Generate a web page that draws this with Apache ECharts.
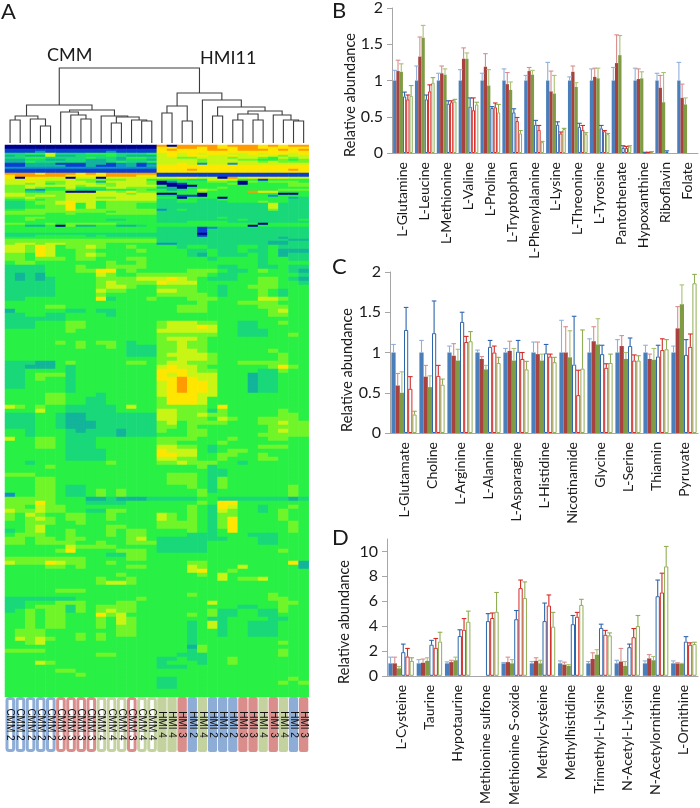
<!DOCTYPE html>
<html><head><meta charset="utf-8">
<script src="https://cdn.jsdelivr.net/npm/echarts@6/dist/echarts.min.js"></script>
<style>html,body{margin:0;padding:0;background:#fff}#c{width:700px;height:808px}</style></head>
<body><div id="c"></div>
<script>
// ---------- Panel A data ----------
const sampleNames = ['CMM 2','CMM 2','CMM 2','CMM 2','CMM 2','CMM 3','CMM 3','CMM 3','CMM 3','CMM 4','CMM 4','CMM 4','CMM 3','CMM 4','CMM 4',
  'HMI 4','HMI 4','HMI 3','HMI 2','HMI 4','HMI 2','HMI 2','HMI 2','HMI 3','HMI 3','HMI 4','HMI 3','HMI 4','HMI 2','HMI 3'];
// merges: [child A, child B, height]; ids below 30 are leaves, ids from 30 are earlier merges
const dendroMerges = [[0,1,23],[3,4,17],[2,31,24],[30,32,27],[7,8,24],[6,34,28],[5,35,31],[10,11,20],[13,14,22],[12,38,23],[37,39,26],[9,40,27],[36,41,33],[33,42,38],
  [15,16,30],[17,18,22],[44,45,37],[20,21,27],[22,23,23],[24,25,23],[48,49,29],[28,29,22],[27,51,23],[26,52,28],[50,53,32],[47,54,36],[19,55,43],[46,56,50],[43,57,75]];
// heat levels 0 (navy) .. 9 (orange), one string per row: CMM samples, then HMI11 samples
const heatRowsTop = [
"000000000000000 909999899989899","000000000000000 889989889988888","111111111111111 898889989998989","111211111121111 888888888888888",
"445574445554445 787878877878878","343373344454333 787887787787677","445544445443554 776677767765767","334433443343443 777767776655656",
"335444443345445 777767777767666","113331113312312 778727727777777","113333113112313 888888888888888","222222222222222 888888888888888",
"111111111111111 888988888888898","111111111111111 888888888888888","999899989899999 111111111111111","899999888899988 111111111111111",
"808877077077777 778877097888877","777777766666775 555447775515555","778766776377776 025556650656665","776756777667776 001555560555566",
"667777767767777 500055555555566","667655755577666 330455655555555","663255644455565 534576555555666","664466000776866 555565555988555",
"776666777777677 005505555555005","776776777777777 441105555552555","667666777667777 550555055555534","556566777777777 445544555555544",
"445667877566666 445544455565544","445667857566655 444444444447444","445566857566655 444444444447444","445566857566655 444444444447444",
"556666866666666 245444444446444","666666666656666 444444444444444","666655655566666 444444444444444","555555555555555 444444444444444",
"556655555555555 444444544444444","556555555544555 444444445444445","555555555555555 444555544444444","665565666665555 555555555505555",
"553350633553345 555555555055555","555555555555555 444412444444444","555555555555555 444414444444444","555555555555555 444414444444444",
"444444444444444 444404444444444","444555554544444 444414444444444","555555555555555 444444444444344","666666666666666 444444444444433",
"666666666666666 444444444443344","677677666655555 224444444443344"];
const heatRowsBottom = [
"776875667655655 554554445545444","776875566555565 555445445445333","665875567655555 555435444545344","665666566555665 555554555545544",
"566555555565565 555555555545555","444455565566665 555555445544544","444455566885655 555666544565543","434355555765566 666665445555554",
"434345555666677 787654445566543","444445555676666 877755555566554","444445555677655 666655455666555","444445555766555 776655455565455",
"444445555655555 666665455565455","445555555845556 555666555577655","555555555555555 555565556666555","555566555555555 556665555566655",
"355555445445555 556665555556755","445544555545555 555555555556655","444444555555555 555555555555555","444555665555555 677766554455655",
"444555665555555 677787554455555","555555655555555 777777554445555","555555555555555 666666554445565","555555555555555 677765555555555",
"555556565665455 667665555555555","555555565565444 667665555555555","555555555555444 667765555556555","555555555555444 677776555555655",
"555555555555555 667776555555655","444335655555665 677666556666655","443335455555555 787765555556865","445555455555555 888766555544655",
"445666455555555 878777555344555","445655455555555 889877555344555","445555455555555 789887555344555","445555455555555 789887555344555",
"555555455555555 789887555344555","555566555455555 788877555555555","555566554455555 688875555555555","555566554455555 688875555555555",
"765655444445755 666665855555555","555755444445555 776664655555655","444554334444444 776676655555665","444554334444444 776665765566665",
"444554333444444 675666655566766","444554333444444 665655555556666","554555434443444 655665555556766","554555444443444 555665555566666",
"755665444555555 666655565556655","555665444555555 665555655555555","555665444555555 776654555566655","555555444455555 877754566555555",
"555555444455555 887755665565555","555555444455555 776655655566555","554555555565555 667666554555555","555565555555555 555564555555555",
"555555555555555 555554455555555","666555555555555 566654455555555","555665555555555 566654655555555","555665555555555 566654655555555",
"555665445555555 555654655555565","555665445656555 555564555555565","255665445656555 555565555555565","666665553343334 444455444444434",
"666865554444555 555565885555555","665766555555555 555654875545565","766766554466555 555654765545655","657655665565555 765654665555655",
"656765665565555 765654685555655","556665565555555 666654685555565","556755555566555 666654685555565","456755655565665 555654585555565",
"566655655565665 555444555444555","665665665555675 444444455544555","665666655655666 444445555544555","555555766665555 444445555555555",
"555556855556665 444445555555655","555555555544665 555555555555555","666666665555665 555555555555555","766687665565555 555665555555583",
"555566565555665 555765557555553","555555555555555 555785565555555","555555555556555 555565755555555","555555555655655 555555756675555",
"555555555677655 555555555555555","555555555555555 555555555555555","555556665555555 555555555555555","555555555555555 555655555556555",
"444444455555565 555555555556655","445556665556655 555557555555665","445666465666655 555555554455655","456566465676655 555556445544655",
"556566555867555 555656445544555","556566555657655 555554455554455","556566555657655 555457455444555","556566555656655 555457455444555",
"566655555556655 555455455444555","566655565656655 555455455444555","576765565655555 555455555555555","556755555555555 555455555555655",
"555555555555555 555365555555555","666655555555555 555465555555655","555555555665555 554445555555655","555555555555555 445445565555555",
"555765555555555 455545565555555","555555555555555 444555555555555","555556655555555 555555555555555","555555565555555 555555555555555",
"555555555555555 445555555555565","555555555555555 445555555555656","555555555555555 445555555555555","555555555555555 555555555555555",
"555555555555555 555555555555555"];

// ---------- Panel B data ----------
const bCategories = ['L-Glutamine','L-Leucine','L-Methionine','L-Valine','L-Proline','L-Tryptophan','L-Phenylalanine','L-Lysine','L-Threonine','L-Tyrosine','Pantothenate','Hypoxanthine','Riboflavin','Folate'];
const bBlue = [1,1,1,1,1,1,1,1,1,1,1,1,1,1];
const bBlueTop = [1.14,1.2,1.1,1.15,1.1,1.16,1.07,1.25,1.05,1.16,1.18,1.17,1.1,1.25];
const bRed = [1.13,1.33,1.1,1.3,1.19,.95,1.13,.85,1.12,1.05,1.24,1.02,.9,.76];
const bRedTop = [1.28,1.6,1.2,1.45,1.37,1.11,1.18,1.13,1.2,1.17,1.63,1.16,1.07,.95];
const bGreen = [1.12,1.59,1.08,1.3,.93,.87,1.08,.82,.91,1.03,1.35,1.03,.7,.67];
const bGreenTop = [1.23,1.76,1.16,1.38,1.15,.98,1.14,1.07,.97,1.17,1.62,1.12,1.11,.76];
const bHollowBlue = [.78,.74,.68,.64,.62,.56,.39,.39,.36,.34,.07,.005,.02,null];
const bHollowBlueTop = [.84,.8,.72,.76,.64,.61,.45,.43,.41,.38,.1,.01,.03,null];
const bHollowRed = [.74,.85,.7,.59,.63,.44,.32,.27,.32,.3,.07,.01,null,null];
const bHollowRedTop = [.8,.94,.72,.76,.69,.49,.38,.29,.38,.31,.09,.01,null,null];
const bHollowGreen = [.79,.97,.71,.67,.56,.27,.15,.33,.26,.26,.09,.02,null,null];
const bHollowGreenTop = [.93,1.04,.74,.7,.67,.31,.16,.34,.28,.27,.1,.02,null,null];

// ---------- Panel C data ----------
const cCategories = ['L-Glutamate','Choline','L-Arginine','L-Alanine','L-Asparagine','L-Histidine','Nicotinamide','Glycine','L-Serine','Thiamin','Pyruvate'];
const cBlue = [1,1,1,1,1,1,1,1,1,1,1];
const cBlueTop = [1.1,1.15,1.08,1.03,1.05,1.13,1.4,1.17,1.16,1.09,1.08];
const cRed = [.59,.7,.96,.92,1.02,.98,1,1.14,1.08,.92,1.3];
const cRedTop = [.74,.84,1.11,.95,1.14,1.13,1.32,1.32,1.21,.98,1.57];
const cGreen = [.5,.57,.9,.79,.9,.9,.94,1.1,.92,.91,1.6];
const cGreenTop = [.76,.71,1.04,.84,1.05,.98,1.27,1.42,1,1.05,1.84];
const cHollowBlue = [1.28,1.24,1.38,1.07,1.01,.99,.85,.98,1.08,.95,.97];
const cHollowBlueTop = [1.56,1.64,1.5,1.15,1.15,1.1,1.45,1.09,1.18,1.09,1.16];
const cHollowRed = [.55,.71,1.13,1,.92,.95,.47,.81,.9,1.03,1.07];
const cHollowRedTop = [.7,.84,1.2,1.08,1,.98,.78,.86,.97,1.17,1.23];
const cHollowGreen = [.23,.6,1.14,.87,.79,.88,.8,.87,.9,1.04,1.86];
const cHollowGreenTop = [.27,.67,1.26,.94,.89,.94,1.28,.98,.96,1.16,1.97];

// ---------- Panel D data ----------
const dCategories = ['L-Cysteine','Taurine','Hypotaurine','Methionine sulfone','Methionine S-oxide','Methylcysteine','Methylhistidine','Trimethyl-L-lysine','N-Acetyl-L-lysine','N-Acetylornithine','L-Ornithine'];
const dBlue = [1,1,1,null,1,1,1,1,1,1,1];
const dBlueTop = [1.5,1.3,1.12,null,1.07,1.15,1.2,1.15,1.25,1.2,1.2];
const dRed = [1,1.05,1.1,null,1.1,1.2,.9,1.35,1.15,1.4,1];
const dRedTop = [1.5,1.35,1.25,null,1.5,1.45,1.1,1.85,2.2,1.7,1.05];
const dGreen = [.6,1.2,1.25,null,1,1,.8,1.7,.8,1.25,.95];
const dGreenTop = [.75,1.45,1.5,null,1.3,1.25,.9,2.1,1.15,1.55,1];
const dHollowBlue = [1.9,2.5,3.2,4.4,4.55,4.4,4.15,3.85,2.3,6.4,2.75];
const dHollowBlueTop = [2.55,2.85,3.7,5,5.25,5.85,4.85,4.15,2.55,7.7,3.15];
const dHollowRed = [1.55,2.25,3.7,4.65,7.05,5.65,4.75,3.3,3.1,6.7,2.5];
const dHollowRedTop = [2.2,3,4.6,5.05,7.7,6.5,5.1,3.65,3.8,8.25,2.65];
const dHollowGreen = [1.2,2.75,4.35,5.15,6.25,3.95,5.7,3.25,4,8.8,2.55];
const dHollowGreenTop = [1.45,3.5,5.2,6.7,7.55,5.1,6.15,3.45,4.85,10.4,2.7];

// ---------- build ----------
const FONT = 'Lato';
const grid = [], xAxis = [], yAxis = [], series = [];
const heatLeft = 5, heatWidth = 303.7;
const colIdx = sampleNames.map((_, i) => String(i));

function heatData(rows) {
  const out = [];
  rows.forEach((r, y) => { const s = r.replace(/ /g, ''); for (let x = 0; x < 30; x++) out.push([x, y, +s[x]]); });
  return out;
}
function addHeat(rows, top, height) {
  const g = grid.length;
  grid.push({ left: heatLeft, top, width: heatWidth, height });
  xAxis.push({ gridIndex: g, type: 'category', data: colIdx, show: false });
  yAxis.push({ gridIndex: g, type: 'category', data: rows.map((_, i) => String(i)), inverse: true, show: false });
  series.push({ type: 'heatmap', xAxisIndex: g, yAxisIndex: g, data: heatData(rows), animation: false, silent: true, progressive: 0 });
}
addHeat(heatRowsTop, 145, 100);
addHeat(heatRowsBottom, 245, 452);

// dendrogram
(function () {
  const g = grid.length;
  grid.push({ left: heatLeft, top: 68, width: heatWidth, height: 75 });
  xAxis.push({ gridIndex: g, type: 'value', min: 0, max: 30, show: false });
  yAxis.push({ gridIndex: g, type: 'value', min: 0, max: 75, show: false });
  const nodes = [];
  for (let i = 0; i < 30; i++) nodes.push({ x: i + .5, h: 0 });
  const links = dendroMerges.map(([a, b, h]) => {
    const n = nodes; const l = [n[a].x, n[a].h, n[b].x, n[b].h, h];
    n.push({ x: (n[a].x + n[b].x) / 2, h });
    return l;
  });
  series.push({
    type: 'custom', xAxisIndex: g, yAxisIndex: g, data: links, silent: true, animation: false, clip: false,
    renderItem(p, api) {
      const a = api.coord([api.value(0), api.value(1)]), b = api.coord([api.value(2), api.value(3)]);
      const t = api.coord([api.value(0), api.value(4)])[1];
      return { type: 'polyline', shape: { points: [a, [a[0], t], [b[0], t], b] }, style: { stroke: '#3c3c3c', lineWidth: 1.1, fill: null } };
    }
  });
})();

// sample strip
(function () {
  const g = grid.length;
  const stripColor = { '2': '#8dadd6', '3': '#d98e8c', '4': '#c4d2a0' };
  grid.push({ left: heatLeft, top: 697, width: heatWidth, height: 55 });
  xAxis.push({ gridIndex: g, type: 'category', data: sampleNames, show: false });
  yAxis.push({ gridIndex: g, type: 'value', min: 0, max: 1, show: false });
  series.push({
    type: 'custom', xAxisIndex: g, yAxisIndex: g, silent: true, animation: false,
    data: sampleNames.map((n, i) => [i, 1]),
    renderItem(p, api) {
      const i = api.value(0), name = sampleNames[i];
      const c = api.coord([i, 1]), b = api.coord([i, 0]), w = api.size([1, 0])[0];
      const col = stripColor[name.slice(-1)], hollow = name[0] === 'C';
      const kids = [];
      if (hollow) {
        kids.push({ type: 'rect', shape: { x: c[0] - w / 2 + 2, y: c[1] + 1.5, width: w - 3.5, height: b[1] - c[1] - 3, r: 2 }, style: { fill: '#fff', stroke: col, lineWidth: 3 } });
      } else {
        kids.push({ type: 'rect', shape: { x: c[0] - w / 2 + .4, y: c[1], width: w - .8, height: b[1] - c[1], r: 2 }, style: { fill: col } });
      }
      kids.push({ type: 'text', x: c[0], y: (c[1] + b[1]) / 2, rotation: -Math.PI / 2,
        style: { text: name, fill: '#111', font: '10px "Liberation Sans"', textAlign: 'center', textVerticalAlign: 'middle' } });
      return { type: 'group', children: kids };
    }
  });
})();

const FILL = ['#4a7ebb', '#a8423f', '#7f9c45'];
const ERRF = ['#8fb0dc', '#d98e8c', '#a9c272'];
const HOLL = ['#2e66ad', '#d42a26', '#8fae55'];
function addBars(cfg) {
  const g = grid.length;
  grid.push({ left: cfg.left, top: cfg.top, width: cfg.width, height: cfg.height });
  xAxis.push({
    gridIndex: g, type: 'category', data: cfg.categories,
    axisLine: { lineStyle: { color: '#a6a6a6', width: 1 } },
    axisTick: { length: 5, lineStyle: { color: '#a6a6a6' } },
    axisLabel: { interval: 0, rotate: 90, margin: 9, color: '#1a1a1a', fontFamily: FONT, fontSize: 14 }
  });
  yAxis.push({
    gridIndex: g, type: 'value', min: 0, max: cfg.max, interval: cfg.interval,
    splitLine: { show: false },
    axisLine: { show: true, lineStyle: { color: '#a6a6a6', width: 1 } },
    axisTick: { show: true, length: 5, lineStyle: { color: '#a6a6a6' }, customValues: cfg.ticks },
    axisLabel: { margin: 9, color: '#1a1a1a', fontFamily: FONT, fontSize: 16, customValues: cfg.ticks }
  });
  cfg.sets.forEach((set, k) => {
    const hollow = k > 2, c = k % 3;
    series.push({
      type: 'bar', xAxisIndex: g, yAxisIndex: g, data: set[0], barGap: 0, barCategoryGap: '10%', animation: false, silent: true,
      itemStyle: hollow ? { color: '#fff', borderColor: HOLL[c], borderWidth: 1 } : { color: FILL[c] }
    });
  });
  cfg.sets.forEach((set, k) => {
    const hollow = k > 2, c = k % 3;
    const col = hollow ? HOLL[c] : ERRF[c];
    const data = set[0].map((v, i) => [i, v, set[1][i]]).filter(d => d[1] != null);
    series.push({
      type: 'custom', xAxisIndex: g, yAxisIndex: g, data, animation: false, silent: true, z: 5,
      renderItem(p, api) {
        const i = api.value(0), band = api.size([1, 0])[0];
        const x = api.coord([i, 0])[0] + (k - 2.5) * band * .9 / 6;
        const y0 = api.coord([i, api.value(1)])[1], y1 = api.coord([i, api.value(2)])[1];
        return { type: 'group', children: [
          { type: 'line', shape: { x1: x, y1: y0, x2: x, y2: y1 }, style: { stroke: col, lineWidth: 1.1 } },
          { type: 'line', shape: { x1: x - 2.3, y1: y1, x2: x + 2.3, y2: y1 }, style: { stroke: col, lineWidth: 1.1 } }
        ] };
      }
    });
  });
}
addBars({ left: 392, top: 6, width: 306, height: 147, max: 2, interval: .5, ticks: [0,.5,1,1.5,2], categories: bCategories,
  sets: [[bBlue,bBlueTop],[bRed,bRedTop],[bGreen,bGreenTop],[bHollowBlue,bHollowBlueTop],[bHollowRed,bHollowRedTop],[bHollowGreen,bHollowGreenTop]] });
addBars({ left: 390, top: 272, width: 308, height: 161, max: 2, interval: .5, ticks: [0,.5,1,1.5,2], categories: cCategories,
  sets: [[cBlue,cBlueTop],[cRed,cRedTop],[cGreen,cGreenTop],[cHollowBlue,cHollowBlueTop],[cHollowRed,cHollowRedTop],[cHollowGreen,cHollowGreenTop]] });
addBars({ left: 387, top: 539, width: 311, height: 138, max: 11, interval: 1, ticks: [0,2,4,6,8,10], categories: dCategories,
  sets: [[dBlue,dBlueTop],[dRed,dRedTop],[dGreen,dGreenTop],[dHollowBlue,dHollowBlueTop],[dHollowRed,dHollowRedTop],[dHollowGreen,dHollowGreenTop]] });

function label(text, x, y, size, rot) {
  return { type: 'text', x, y, rotation: rot || 0, silent: true,
    style: { text, fill: '#1a1a1a', font: size + 'px ' + FONT, textAlign: rot ? 'center' : 'left', textVerticalAlign: rot ? 'middle' : 'top' } };
}
const graphic = [
  label('A', 1, 1, 22), label('B', 332, 0, 22), label('C', 332, 256, 22), label('D', 332, 527, 22),
  label('CMM', 47, 46, 18), label('HMI11', 200, 49, 18),
  label('Relative abundance', 350, 95, 14.5, Math.PI / 2),
  label('Relative abundance', 347, 370, 14.5, Math.PI / 2),
  label('Relative abundance', 344, 622, 14.5, Math.PI / 2)
];

const chart = echarts.init(document.getElementById('c'), null, { renderer: 'canvas' });
chart.setOption({
  animation: false, backgroundColor: '#fff', grid, xAxis, yAxis, series, graphic,
  visualMap: { show: false, type: 'continuous', min: 0, max: 9, seriesIndex: [0, 1], calculable: false,
    inRange: { color: ['#00008c', '#0a3fd0', '#0f90c8', '#12b49a', '#18d87a', '#28f045', '#70f528', '#c8f514', '#ffe600', '#ff9a00'] } }
});
</script></body></html>
